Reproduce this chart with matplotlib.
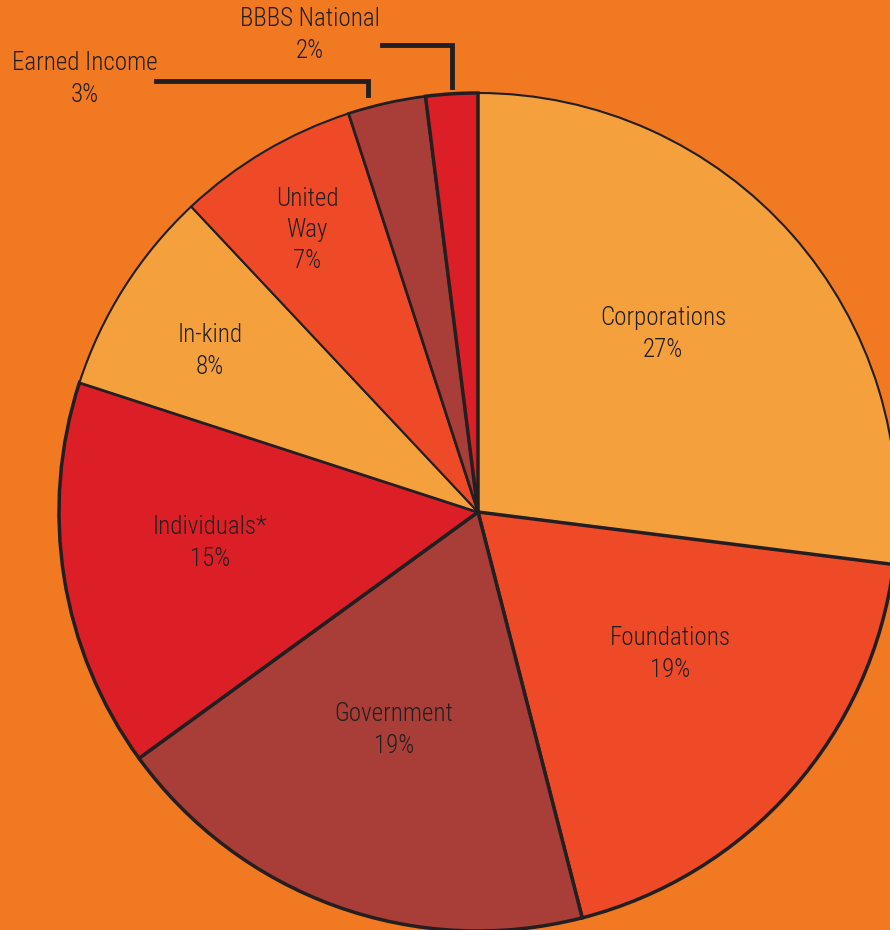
import matplotlib.pyplot as plt

plt.rcParams['font.family'] = ['Roboto Condensed', 'Archivo Narrow',
                               'PT Sans Narrow', 'Liberation Sans Narrow',
                               'DejaVu Sans']

# funding sources, clockwise from 12 o'clock
sources = ['Corporations', 'Foundations', 'Government', 'Individuals*',
           'In-kind', 'United Way', 'Earned Income', 'BBBS National']
shares = [27, 19, 19, 15, 8, 7, 3, 2]
colors = ['#F4A13D', '#EF4A28', '#A83E37', '#DC1F26',
          '#F4A13D', '#EF4A28', '#A83E37', '#DC1F26']
edge_w = [1.5, 2.5, 2.5, 2.5, 1.5, 1.5, 2.0, 2.5]

bg = '#F07921'
ink = '#231F20'

fig = plt.figure(figsize=(8.9, 9.3), dpi=100, facecolor=bg)
ax = fig.add_axes([0, 0, 1, 1])
ax.set_facecolor(bg)

# centre / radius in pixel units (y measured from bottom)
cx, cy, r = 478, 930 - 512, 419

wedges, _ = ax.pie(shares, colors=colors, startangle=90, counterclock=False,
                   center=(cx, cy), radius=r, frame=True,
                   wedgeprops=dict(edgecolor=ink, linewidth=2))
for w, lw in zip(wedges, edge_w):
    w.set_linewidth(lw)
ax.set_xlim(0, 890)
ax.set_ylim(0, 930)
ax.axis('off')

# label text and positions (pixel coords from top)
label_txt = ['Corporations\n27%', 'Foundations\n19%', 'Government\n19%',
             'Individuals*\n15%', 'In-kind\n8%', 'United\nWay\n7%',
             'Earned Income\n3%', 'BBBS National\n2%']
label_pos = [(663, 334), (670, 654), (394, 730), (210, 543),
             (210, 351), (307, 230), (85, 79), (310, 35)]
for t, (x, y) in zip(label_txt, label_pos):
    ax.text(x, 930 - y, t, ha='center', va='center', fontsize=18,
            fontweight='light', color=ink, linespacing=1.38)

# leader lines for the two small slices
ax.plot([156, 368, 368], [930 - 81, 930 - 81, 930 - 95], color=ink,
        lw=3.5, solid_joinstyle='miter')
ax.plot([382, 452, 452], [930 - 45, 930 - 45, 930 - 87], color=ink,
        lw=3.5, solid_joinstyle='miter')

plt.savefig('out.png', dpi=100, facecolor=bg)
